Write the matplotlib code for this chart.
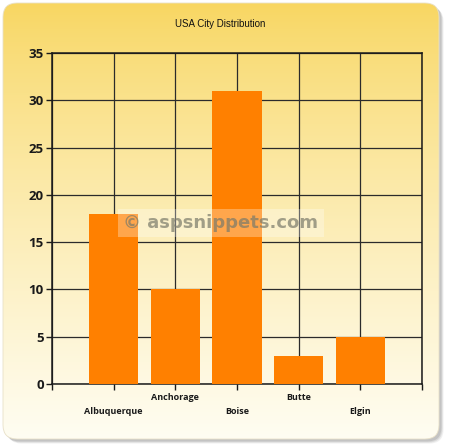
import numpy as np
import matplotlib
matplotlib.use("Agg")
import matplotlib.pyplot as plt
from matplotlib.patches import FancyBboxPatch

cities = ["Albuquerque", "Anchorage", "Boise", "Butte", "Elgin"]
counts = [18, 10, 31, 3, 5]
y_ticks = [0, 5, 10, 15, 20, 25, 30, 35]
title = "USA City Distribution"

W, H = 450, 446
fig = plt.figure(figsize=(W / 100, H / 100), dpi=100)
fig.patch.set_facecolor("white")

# background panel: shadow + rounded box with vertical gradient
bg = fig.add_axes([0, 0, 1, 1])
bg.set_xlim(0, W)
bg.set_ylim(H, 0)
bg.axis("off")

for off, a in [(4.5, 0.12), (3.5, 0.18), (2.5, 0.25)]:
    sh = FancyBboxPatch((3 + off, 3 + off), 436, 436,
                        boxstyle="round,pad=0,rounding_size=14",
                        fc="#808080", ec="none", alpha=a, zorder=0)
    bg.add_patch(sh)

top = np.array([248, 214, 96]) / 255
bottom = np.array([255, 253, 242]) / 255
t = np.linspace(0, 1, 256) ** 0.8
grad = top[None, :] * (1 - t[:, None]) + bottom[None, :] * t[:, None]
grad = np.repeat(grad[:, None, :], 2, axis=1)
box = FancyBboxPatch((3, 3), 436, 436, boxstyle="round,pad=0,rounding_size=14",
                     fc="none", ec="#e8e0c8", lw=0.6, zorder=2)
bg.add_patch(box)
im = bg.imshow(grad, extent=[3, 439, 439, 3], aspect="auto", zorder=1)
im.set_clip_path(box)

bg.text(220, 24, title, ha="center", va="center", fontsize=7,
        family="Liberation Sans", color="#111111", zorder=3)

# chart area
ax = fig.add_axes([52 / W, 1 - 384 / H, 370 / W, 331 / H])
ax.set_facecolor("none")
x = np.arange(1, len(cities) + 1)
ax.bar(x, counts, width=0.8, color="#FF8000", zorder=3)

ax.set_xlim(0, 6)
ax.set_ylim(0, 35)
ax.set_yticks(y_ticks)
ax.set_xticks(np.arange(0, 7))
ax.set_xticklabels([])
ax.grid(True, color="#2b2b2b", lw=0.9, zorder=1)
ax.set_axisbelow(True)
for s in ax.spines.values():
    s.set_color("#1a1a1a")
    s.set_linewidth(1.1)
ax.tick_params(direction="out", length=4, width=1, color="#1a1a1a", pad=2)
for lab in ax.get_yticklabels():
    lab.set_family("Open Sans")
    lab.set_fontweight("bold")
    lab.set_fontsize(9.5)
    lab.set_color("#1a1a1a")

tr = ax.get_xaxis_transform()
for i, (xi, name) in enumerate(zip(x, cities)):
    dy = 28 if i % 2 == 0 else 14
    ax.text(xi, -dy / 331, name, transform=tr, ha="center", va="center",
            fontsize=6.5, family="Open Sans", fontweight="bold", color="#1a1a1a")

# watermark
ax.text((221 - 52) / 370, (384 - 223) / 331, "\u00a9 aspsnippets.com",
        transform=ax.transAxes, ha="center", va="center", fontsize=13,
        fontweight="bold", family="DejaVu Sans", color="#7a7a6a", alpha=0.7,
        zorder=5,
        bbox=dict(boxstyle="square,pad=0.3", fc="white", ec="none", alpha=0.3))

fig.savefig("out.png", dpi=100)
